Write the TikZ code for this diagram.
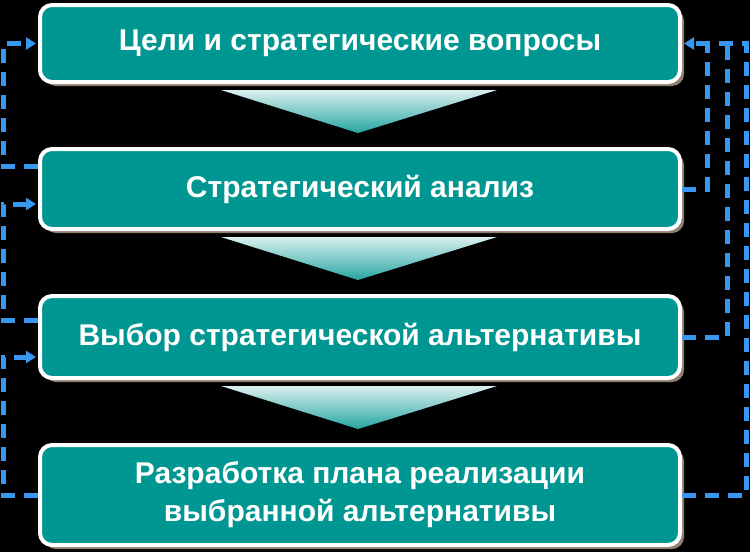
\documentclass[tikz,border=0pt]{standalone}
\usepackage{fontspec}
\setmainfont{Liberation Sans}
\usetikzlibrary{arrows.meta,positioning,calc,shadows}
\definecolor{stageteal}{RGB}{0,150,145}
\definecolor{fbblue}{RGB}{56,152,240}

\begin{document}
\begin{tikzpicture}[>={Triangle[length=10pt,width=12pt]},shorten >=2pt,x=1pt,y=-1pt,node distance=63pt,
 stage/.style={draw=white,line width=4pt,rounded corners=12pt,fill=stageteal,text=white,
  font=\bfseries\fontsize{30}{38}\selectfont,align=center,minimum width=640pt,
  drop shadow={shadow xshift=4pt,shadow yshift=-4pt,fill=gray!75!brown,opacity=1}},
 fb/.style={draw=fbblue,line width=5pt,dash pattern=on 14pt off 9pt},
 link/.style={top color=stageteal!15!white,bottom color=stageteal!85!white,draw=none}]
 \fill[black] (0,0) rectangle (750,552);
 \useasboundingbox (0,0) rectangle (750,552);

 \node[stage,minimum height=77pt] (B1) at (360,43.5) {Цели и стратегические вопросы};
 \node[stage,minimum height=80pt,below=of B1] (B2) {Стратегический анализ};
 \node[stage,minimum height=82pt,below=of B2] (B3) {Выбор стратегической альтернативы};
 \node[stage,minimum height=100pt,below=of B3] (B4) {Разработка плана реализации\\выбранной альтернативы};

 \foreach \a/\b in {B1/B2,B2/B3,B3/B4}
  \shade[link] ($(\a.south)+(-139,6)$) -- ($(\a.south)+(137,6)$) -- ($(\b.north)+(-2,-14)$) -- cycle;

 \coordinate (L) at (3,0);
 \coordinate (R1) at (707,0);
 \coordinate (R2) at (727,0);
 \coordinate (R3) at (746,0);
 \coordinate (B2out) at ([yshift=23pt]B2.west);
 \coordinate (B2in) at ([yshift=-15pt]B2.west);
 \coordinate (B3out) at ([yshift=17pt]B3.west);
 \coordinate (B3in) at ([yshift=-20pt]B3.west);

 % feedback on the left
 \draw[fb,->] (B2out) -| (L |- B1.west) -- (B1.west);
 \draw[fb,->] (B3out) -| (L |- B2in) -- (B2in);
 \draw[fb,->] (B4.west) -| (L |- B3in) -- (B3in);

 % feedback on the right
 \draw[fb] (B2.east) -| (R1 |- B1.east);
 \draw[fb] (B3.east) -| (R2 |- B1.east);
 \draw[fb,->] (B4.east) -| (R3 |- B1.east) -- (B1.east);
\end{tikzpicture}
\end{document}
